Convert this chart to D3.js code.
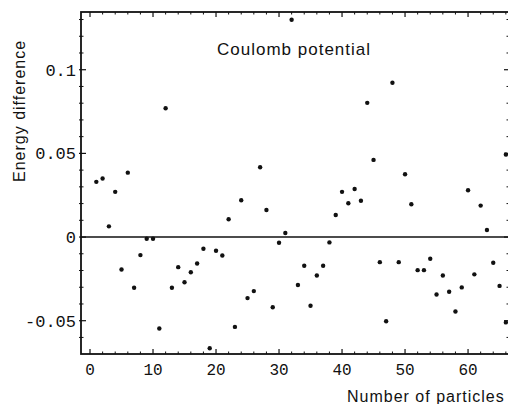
<!DOCTYPE html>
<html lang="en">
<head>
<meta charset="UTF-8">
<title>Energy difference vs number of particles</title>
<style>
  body { margin: 0; background: #fff; }
  .tick-label { font-family: "Liberation Mono", "Courier New", monospace; font-size: 16px; fill: #111; }
  .title { font-family: "Liberation Sans", Arial, sans-serif; font-size: 16px; letter-spacing: 1px; fill: #111; }
</style>
</head>
<body>
<svg width="508" height="404"></svg>
<script src="https://d3js.org/d3.v7.min.js"></script>
<script>
// particle count and energy difference
const particles = [1, 2, 3, 4, 5, 6, 7, 8, 9, 10,
  11, 12, 13, 14, 15, 16, 17, 18, 19, 20,
  21, 22, 23, 24, 25, 26, 27, 28, 29, 30,
  31, 32, 33, 34, 35, 36, 37, 38, 39, 40,
  41, 42, 43, 44, 45, 46, 47, 48, 49, 50,
  51, 52, 53, 54, 55, 56, 57, 58, 59, 60,
  61, 62, 63, 64, 65, 66, 66];
const energyDiff = [0.033, 0.035, 0.0064, 0.027, -0.0194, 0.0385, -0.0303, -0.0108, -0.001, -0.001,
  -0.0547, 0.077, -0.0303, -0.018, -0.027, -0.021, -0.0158, -0.007, -0.0665, -0.0082,
  -0.011, 0.0106, -0.0537, 0.022, -0.0365, -0.0323, 0.0417, 0.0162, -0.042, -0.0034,
  0.0024, 0.1299, -0.0287, -0.0172, -0.0411, -0.023, -0.0172, -0.0032, 0.0132, 0.027,
  0.0202, 0.0287, 0.0217, 0.0802, 0.0461, -0.015, -0.0503, 0.0922, -0.015, 0.0375,
  0.0196, -0.0198, -0.0198, -0.013, -0.0343, -0.023, -0.0327, -0.0445, -0.0301, 0.028,
  -0.0223, 0.0188, 0.0042, -0.0154, -0.0292, 0.0493, -0.051];

const xTicks = [0, 10, 20, 30, 40, 50, 60];
const yTicks = [-0.05, 0, 0.05, 0.1];
const yTickLabels = ["-0.05", "0", "0.05", "0.1"];

const svg = d3.select("svg");

// frame edges
const frameL = 81, frameR = 509, frameT = 12, frameB = 354;

const x = d3.scaleLinear().domain([-1.43, 66.5]).range([frameL, frameR]);
const y = d3.scaleLinear().domain([-0.0699, 0.1345]).range([frameB, frameT]);

const ink = "#111";

// minor ticks
const xMinor = d3.range(0, 67, 2).filter(v => v % 10 !== 0);
const yMinor = d3.range(-6, 14).map(v => v / 100).filter(v => Math.round(v * 100) % 5 !== 0);

const ticks = svg.append("g").attr("stroke", ink);

function xTickMarks(vals, len, w) {
  vals.forEach(v => {
    ticks.append("line").attr("x1", x(v)).attr("x2", x(v))
      .attr("y1", frameB).attr("y2", frameB - len).attr("stroke-width", w);
    ticks.append("line").attr("x1", x(v)).attr("x2", x(v))
      .attr("y1", frameT).attr("y2", frameT + len).attr("stroke-width", w);
  });
}
function yTickMarks(vals, len, w) {
  vals.forEach(v => {
    ticks.append("line").attr("x1", frameL - 2).attr("x2", frameL + len)
      .attr("y1", y(v)).attr("y2", y(v)).attr("stroke-width", w);
    ticks.append("line").attr("x1", frameR).attr("x2", frameR - len)
      .attr("y1", y(v)).attr("y2", y(v)).attr("stroke-width", w);
  });
}
xTickMarks(xTicks, 5, 1.2);
xTickMarks(xMinor, 2.5, 1);
yTickMarks(yTicks, 5, 1.2);
yTickMarks(yMinor, 2.5, 1);

// frame
svg.append("rect")
  .attr("x", frameL).attr("y", frameT)
  .attr("width", frameR - frameL).attr("height", frameB - frameT)
  .attr("fill", "none").attr("stroke", ink).attr("stroke-width", 1.8);

// zero line
svg.append("line")
  .attr("x1", frameL).attr("x2", frameR)
  .attr("y1", y(0)).attr("y2", y(0))
  .attr("stroke", ink).attr("stroke-width", 1.6);

// tick labels
svg.append("g").selectAll("text")
  .data(xTicks).enter().append("text")
  .attr("class", "tick-label")
  .attr("x", d => x(d)).attr("y", 375)
  .attr("text-anchor", "middle")
  .text(d => d);

svg.append("g").selectAll("text")
  .data(yTicks).enter().append("text")
  .attr("class", "tick-label")
  .attr("x", 76).attr("y", d => y(d))
  .attr("dy", "0.35em")
  .attr("text-anchor", "end")
  .style("font-size", "17px")
  .text((d, i) => yTickLabels[i]);

// points
svg.append("g").selectAll("circle")
  .data(particles).enter().append("circle")
  .attr("cx", d => x(d))
  .attr("cy", (d, i) => y(energyDiff[i]))
  .attr("r", 2.2)
  .attr("fill", ink);

// labels
svg.append("text").attr("class", "title")
  .attr("x", 217).attr("y", 55)
  .style("font-size", "17px")
  .text("Coulomb potential");

svg.append("text").attr("class", "title")
  .attr("transform", "translate(25,182) rotate(-90)")
  .text("Energy difference");

svg.append("text").attr("class", "title")
  .attr("x", 347).attr("y", 402)
  .text("Number of particles");
</script>
</body>
</html>
